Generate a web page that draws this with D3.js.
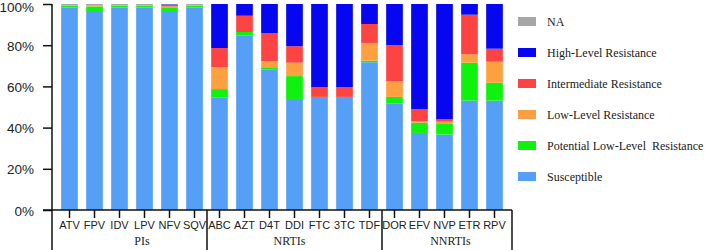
<!DOCTYPE html>
<html>
<head>
<meta charset="utf-8">
<script src="https://cdn.jsdelivr.net/npm/d3@7"></script>
<style>
  body { margin: 0; background: #fff; }
  svg { display: block; font-family: 'Liberation Serif', 'Times New Roman', serif; }
</style>
</head>
<body>
<svg id="chart" width="708" height="250"></svg>
<script>
// drug classes and drugs
const groups = [
  { name: 'PIs', drugs: ['ATV', 'FPV', 'IDV', 'LPV', 'NFV', 'SQV'] },
  { name: 'NRTIs', drugs: ['ABC', 'AZT', 'D4T', 'DDI', 'FTC', '3TC', 'TDF'] },
  { name: 'NNRTIs', drugs: ['DOR', 'EFV', 'NVP', 'ETR', 'RPV'] }
]
const drugs = groups.flatMap(g => g.drugs)

// stacking order, bottom to top
const levels = ['Susceptible', 'Potential Low-Level  Resistance', 'Low-Level Resistance',
  'Intermediate Resistance', 'High-Level Resistance', 'NA']
const colors = ['#569ff7', '#0ef20e', '#ffa040', '#fe4343', '#0606f0', '#a6a6a6']

// percentages per level, in drug order
const susceptible = [98.3, 96.6, 98.3, 98.3, 96.6, 98.3, 54.5, 84.8, 68.3, 53.9, 54.9, 54.9, 71.7, 51.6, 37.4, 36.6, 53.1, 53.1]
const potentialLow = [0.8, 2.2, 0.8, 0.8, 1.8, 0.8, 4.2, 1.6, 1.0, 11.1, 0, 0, 0.8, 3.3, 5.0, 5.5, 18.4, 8.7]
const lowLevel = [0.2, 0.6, 0.2, 0.2, 0.4, 0.2, 10.7, 0, 3.0, 6.5, 0, 0, 8.6, 7.7, 0.8, 0.8, 4.1, 10.2]
const intermediate = [0, 0, 0, 0, 0.7, 0, 9.2, 7.9, 13.5, 8.0, 4.7, 4.7, 9.2, 17.4, 5.8, 1.1, 19.2, 6.3]
const highLevel = [0, 0, 0, 0, 0.3, 0, 21.4, 5.7, 14.2, 20.5, 40.4, 40.4, 9.7, 20.0, 51.0, 56.0, 5.2, 21.7]
const notAvailable = [0.7, 0.6, 0.7, 0.7, 0.2, 0.7, 0, 0, 0, 0, 0, 0, 0, 0, 0, 0, 0, 0]
const series = [susceptible, potentialLow, lowLevel, intermediate, highLevel, notAvailable]
const yTicks = [0, 20, 40, 60, 80, 100]

const rows = drugs.map((d, i) => {
  const row = { drug: d }
  levels.forEach((l, j) => { row[l] = series[j][i] })
  return row
})

const svg = d3.select('#chart')
const plotLeft = 52
const plotRight = 512
const plotTop = 4
const plotBottom = 210
const serif = "'Liberation Serif', 'Times New Roman', serif"

const x = d3.scaleBand().domain(drugs).range([plotLeft, plotRight])
  .paddingInner(1 / 3).paddingOuter(0.367)
const y = d3.scaleLinear().domain([0, 100]).range([plotBottom, plotTop])
const color = d3.scaleOrdinal().domain(levels).range(colors)

const stacked = d3.stack().keys(levels)(rows)

svg.append('g')
  .selectAll('g')
  .data(stacked)
  .join('g')
  .attr('fill', d => color(d.key))
  .selectAll('rect')
  .data(d => d)
  .join('rect')
  .attr('x', d => x(d.data.drug))
  .attr('width', x.bandwidth())
  .attr('y', d => y(d[1]))
  .attr('height', d => Math.max(0, y(d[0]) - y(d[1])))

// y axis
const yAxis = svg.append('g')
  .attr('transform', `translate(${plotLeft},0)`)
  .attr('font-family', serif)
  .call(d3.axisLeft(y).tickValues(yTicks).tickFormat(d => d + '%').tickSize(9).tickPadding(9))
yAxis.select('.domain').remove()
yAxis.selectAll('line').attr('stroke', '#111').attr('stroke-width', 1.5)
yAxis.selectAll('text').attr('font-size', '13.5px').attr('fill', '#222')
  .attr('dy', d => d === 100 ? '0.55em' : '0.38em')

// vertical axis line, running down through the class labels
svg.append('line')
  .attr('x1', plotLeft).attr('x2', plotLeft)
  .attr('y1', plotTop).attr('y2', 250)
  .attr('stroke', '#111').attr('stroke-width', 1.5)

// x axis
const xAxis = svg.append('g')
  .attr('transform', `translate(0,${plotBottom})`)
  .attr('font-family', serif)
  .call(d3.axisBottom(x).tickSize(8).tickPadding(3))
xAxis.select('.domain').remove()
xAxis.selectAll('line').attr('stroke', '#111').attr('stroke-width', 1.5)
xAxis.selectAll('text').attr('font-size', '11px').attr('fill', '#222')

svg.append('line')
  .attr('x1', plotLeft - 9).attr('x2', plotRight)
  .attr('y1', plotBottom).attr('y2', plotBottom)
  .attr('stroke', '#111').attr('stroke-width', 1.5)

// class separators and labels
const step = x.step()
groups.forEach((g, i) => {
  const first = x(g.drugs[0])
  const last = x(g.drugs[g.drugs.length - 1]) + x.bandwidth()
  const sepX = i === groups.length - 1 ? plotRight : last + (step - x.bandwidth()) / 2
  svg.append('line')
    .attr('x1', sepX).attr('x2', sepX)
    .attr('y1', plotBottom).attr('y2', 250)
    .attr('stroke', '#111').attr('stroke-width', 1.5)
  svg.append('text')
    .attr('x', (first + last) / 2 + [10, -5, 6][i])
    .attr('y', 245)
    .attr('text-anchor', 'middle')
    .attr('font-size', '12px')
    .attr('fill', '#222')
    .text(g.name)
})

// legend, top entry is NA
const legend = svg.append('g').attr('transform', 'translate(518,17)')
const legendItems = legend.selectAll('g')
  .data(levels.slice().reverse())
  .join('g')
  .attr('transform', (d, i) => `translate(0,${i * 31})`)
legendItems.append('rect')
  .attr('width', 18).attr('height', 9)
  .attr('fill', d => color(d))
legendItems.append('text')
  .attr('x', 29).attr('y', 8.5)
  .attr('font-size', '12px')
  .attr('fill', '#222')
  .style('white-space', 'pre')
  .text(d => d)
</script>
</body>
</html>
